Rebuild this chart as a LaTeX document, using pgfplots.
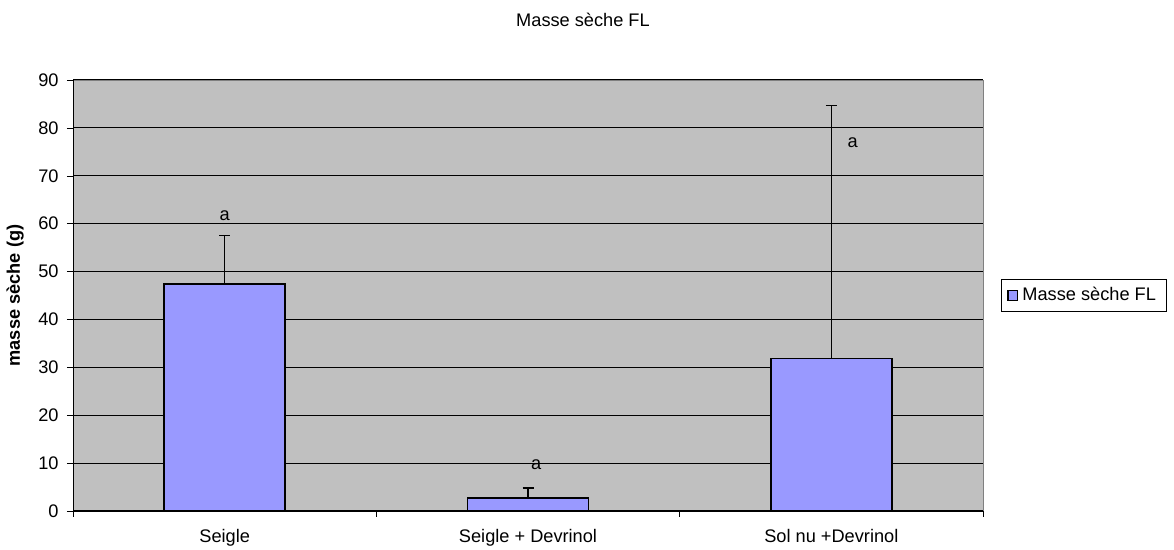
\documentclass[border=0pt]{standalone}
\usepackage{fontspec}
\setmainfont{Liberation Sans}
\usepackage{pgfplots}
\pgfplotsset{compat=1.18}
\definecolor{barblue}{HTML}{9999FF}
\definecolor{plotgray}{HTML}{C0C0C0}
\newcommand{\chartfont}{\fontsize{9.1}{11}\selectfont}
\begin{document}
\chartfont
\begin{tikzpicture}
\path[use as bounding box] (0,0) rectangle (587pt,275pt);
\node[font=\chartfont] at (291.5pt,265pt) {Masse sèche FL};
\begin{axis}[
    scale only axis,
    at={(36.5pt,19.5pt)}, anchor=south west,
    width=455pt, height=215.5pt,
    ybar, bar width=60.5pt,
    xmin=-0.5, xmax=2.5,
    ymin=0, ymax=90,
    ytick={0,10,...,90},
    xtick={0,1,2},
    xticklabels={Seigle, Seigle + Devrinol, Sol nu +Devrinol},
    minor xtick={-0.5,0.5,1.5,2.5},
    major x tick style={draw=none},
    minor tick length=3pt, major tick length=3pt,
    tick align=outside,
    axis x line*=bottom, axis y line*=left,
    axis line style={black},
    tick style={black},
    axis background/.style={fill=plotgray, draw=gray},
    ymajorgrids, grid style={black, line width=0.5pt},
    ylabel={\textbf{masse sèche (g)}},
    ylabel style={yshift=1pt},
    xticklabel style={yshift=-3pt},
    yticklabel style={xshift=-1pt},
    /pgf/number format/assume math mode=true,
    tick label style={font=\chartfont},
    label style={font=\chartfont},
    legend style={at={(1.0198,0.538)}, anchor=north west, draw=black,
        font=\chartfont, inner xsep=3pt, inner ysep=2pt},
    legend image code/.code={\draw[fill=barblue,draw=black] (0pt,-2.4pt) rectangle (4.8pt,2.4pt);},
]
\addplot[fill=barblue, draw=black, line width=0.7pt,
    error bars/.cd, y dir=plus, y explicit,
    error bar style={black, line width=0.6pt},
    error mark options={rotate=90, mark size=2.75pt, black, line width=0.6pt}]
    coordinates {
    (0,47.4) +- (0,10.2)
    (1,2.7) +- (0,2.1)
    (2,31.8) +- (0,52.8)
};
\legend{Masse sèche FL}
\node at (axis cs:0,61.7) {a};
\node at (axis cs:1.027,9.6) {a};
\node at (axis cs:2.07,77) {a};
\end{axis}
\end{tikzpicture}
\end{document}
